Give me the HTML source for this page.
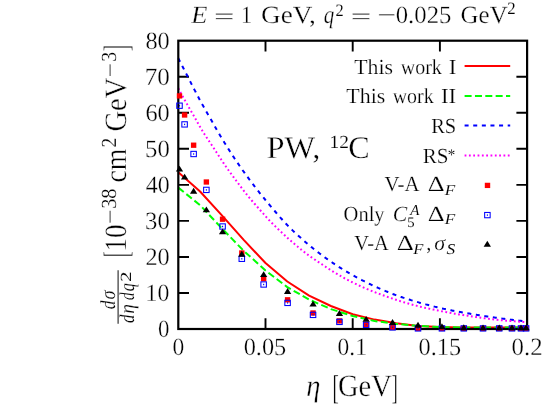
<!DOCTYPE html>
<html><head><meta charset="utf-8"><title>plot</title>
<style>
html,body{margin:0;padding:0;background:#fff;overflow:hidden}
svg{display:block}
text{font-family:"Liberation Serif",serif}
</style></head><body>
<svg width="545" height="406" viewBox="0 0 545 406">
<rect x="0" y="0" width="545" height="406" fill="#fff"/>
<path d="M178.3 292.96 h10.7 M527.1 292.96 h-10.7 M178.3 256.93 h10.7 M527.1 256.93 h-10.7 M178.3 220.89 h10.7 M527.1 220.89 h-10.7 M178.3 184.85 h10.7 M527.1 184.85 h-10.7 M178.3 148.81 h10.7 M527.1 148.81 h-10.7 M178.3 112.78 h10.7 M527.1 112.78 h-10.7 M178.3 76.74 h10.7 M527.1 76.74 h-10.7 M265.50 329.0 v-10.7 M265.50 40.7 v10.7 M352.70 329.0 v-10.7 M352.70 40.7 v10.7 M439.90 329.0 v-10.7 M439.90 40.7 v10.7" stroke="#000" stroke-width="1.9" fill="none"/>
<defs><clipPath id="pc"><rect x="178.3" y="40.7" width="348.80" height="288.30"/></clipPath></defs>
<g id="curves">
<path d="M178.30 172.30 L200.10 191.50 L221.90 215.40 L243.70 239.90 L265.50 263.00 L287.30 281.50 L309.10 295.60 L330.90 306.00 L352.70 314.20 L374.50 319.60 L396.30 323.20 L418.10 325.90 L439.90 327.10 L461.70 327.50 L483.50 327.60 L505.30 327.60 L527.10 327.60" stroke="#ff0000" stroke-width="2" fill="none" stroke-linejoin="round"/>
<path d="M178.30 187.60 L200.10 205.20 L221.90 228.40 L243.70 250.80 L265.50 270.50 L287.30 287.10 L309.10 299.60 L330.90 309.10 L352.70 316.00 L374.50 321.00 L396.30 323.90 L418.10 325.90 L439.90 327.10 L461.70 327.50 L483.50 327.60 L505.30 327.60 L527.10 327.60" stroke="#00ff00" stroke-width="2" fill="none" stroke-dasharray="7 3.35" stroke-linejoin="round"/>
<path d="M178.30 58.20 L179.17 59.91 L180.05 61.63 L180.92 63.34 L181.80 65.05 L182.67 66.76 L183.55 68.47 L184.42 70.18 L185.29 71.89 L186.17 73.59 L187.04 75.29 L187.92 76.99 L188.79 78.70 L189.66 80.41 L190.54 82.13 L191.41 83.84 L192.29 85.55 L193.16 87.25 L194.04 88.95 L194.91 90.64 L195.78 92.33 L196.66 94.00 L197.53 95.65 L198.41 97.29 L199.28 98.92 L200.15 100.53 L201.03 102.12 L201.90 103.70 L202.78 105.27 L203.65 106.83 L204.53 108.38 L205.40 109.92 L206.27 111.46 L207.15 112.99 L208.02 114.51 L208.90 116.03 L209.77 117.55 L210.64 119.07 L211.52 120.59 L212.39 122.10 L213.27 123.62 L214.14 125.14 L215.02 126.66 L215.89 128.17 L216.76 129.68 L217.64 131.19 L218.51 132.69 L219.39 134.18 L220.26 135.66 L221.14 137.14 L222.01 138.60 L222.88 140.06 L223.76 141.50 L224.63 142.93 L225.51 144.34 L226.38 145.75 L227.25 147.14 L228.13 148.53 L229.00 149.90 L229.88 151.27 L230.75 152.62 L231.63 153.97 L232.50 155.31 L233.37 156.64 L234.25 157.96 L235.12 159.27 L236.00 160.58 L236.87 161.88 L237.74 163.16 L238.62 164.44 L239.49 165.72 L240.37 166.98 L241.24 168.23 L242.12 169.47 L242.99 170.71 L243.86 171.93 L244.74 173.15 L245.61 174.36 L246.49 175.56 L247.36 176.75 L248.23 177.94 L249.11 179.12 L249.98 180.29 L250.86 181.45 L251.73 182.61 L252.61 183.77 L253.48 184.92 L254.35 186.06 L255.23 187.20 L256.10 188.33 L256.98 189.45 L257.85 190.56 L258.73 191.67 L259.60 192.77 L260.47 193.87 L261.35 194.95 L262.22 196.04 L263.10 197.11 L263.97 198.18 L264.84 199.25 L265.72 200.31 L266.59 201.36 L267.47 202.42 L268.34 203.46 L269.22 204.51 L270.09 205.55 L270.96 206.59 L271.84 207.62 L272.71 208.66 L273.59 209.69 L274.46 210.72 L275.33 211.75 L276.21 212.77 L277.08 213.78 L277.96 214.79 L278.83 215.80 L279.71 216.80 L280.58 217.79 L281.45 218.77 L282.33 219.74 L283.20 220.71 L284.08 221.66 L284.95 222.61 L285.82 223.54 L286.70 224.47 L287.57 225.38 L288.45 226.27 L289.32 227.16 L290.20 228.04 L291.07 228.91 L291.94 229.76 L292.82 230.61 L293.69 231.45 L294.57 232.28 L295.44 233.10 L296.32 233.91 L297.19 234.72 L298.06 235.52 L298.94 236.31 L299.81 237.09 L300.69 237.87 L301.56 238.65 L302.43 239.42 L303.31 240.18 L304.18 240.94 L305.06 241.70 L305.93 242.45 L306.81 243.20 L307.68 243.95 L308.55 244.68 L309.43 245.41 L310.30 246.14 L311.18 246.86 L312.05 247.57 L312.92 248.28 L313.80 248.98 L314.67 249.67 L315.55 250.36 L316.42 251.04 L317.30 251.72 L318.17 252.40 L319.04 253.06 L319.92 253.73 L320.79 254.39 L321.67 255.04 L322.54 255.69 L323.41 256.33 L324.29 256.97 L325.16 257.61 L326.04 258.24 L326.91 258.87 L327.79 259.49 L328.66 260.10 L329.53 260.71 L330.41 261.32 L331.28 261.92 L332.16 262.51 L333.03 263.10 L333.91 263.69 L334.78 264.27 L335.65 264.84 L336.53 265.41 L337.40 265.98 L338.28 266.54 L339.15 267.10 L340.02 267.65 L340.90 268.20 L341.77 268.74 L342.65 269.28 L343.52 269.82 L344.40 270.35 L345.27 270.87 L346.14 271.40 L347.02 271.92 L347.89 272.44 L348.77 272.95 L349.64 273.46 L350.51 273.96 L351.39 274.46 L352.26 274.95 L353.14 275.44 L354.01 275.92 L354.89 276.40 L355.76 276.88 L356.63 277.35 L357.51 277.82 L358.38 278.28 L359.26 278.74 L360.13 279.20 L361.00 279.65 L361.88 280.10 L362.75 280.54 L363.63 280.98 L364.50 281.42 L365.38 281.86 L366.25 282.29 L367.12 282.72 L368.00 283.15 L368.87 283.57 L369.75 283.99 L370.62 284.41 L371.49 284.83 L372.37 285.25 L373.24 285.66 L374.12 286.06 L374.99 286.47 L375.87 286.87 L376.74 287.27 L377.61 287.66 L378.49 288.05 L379.36 288.44 L380.24 288.83 L381.11 289.21 L381.99 289.59 L382.86 289.96 L383.73 290.33 L384.61 290.70 L385.48 291.07 L386.36 291.43 L387.23 291.79 L388.10 292.14 L388.98 292.50 L389.85 292.84 L390.73 293.19 L391.60 293.53 L392.48 293.87 L393.35 294.20 L394.22 294.53 L395.10 294.86 L395.97 295.18 L396.85 295.50 L397.72 295.81 L398.59 296.12 L399.47 296.43 L400.34 296.73 L401.22 297.03 L402.09 297.32 L402.97 297.61 L403.84 297.90 L404.71 298.18 L405.59 298.47 L406.46 298.74 L407.34 299.02 L408.21 299.29 L409.08 299.56 L409.96 299.83 L410.83 300.10 L411.71 300.36 L412.58 300.62 L413.46 300.88 L414.33 301.14 L415.20 301.40 L416.08 301.65 L416.95 301.91 L417.83 302.16 L418.70 302.41 L419.58 302.67 L420.45 302.92 L421.32 303.16 L422.20 303.41 L423.07 303.65 L423.95 303.89 L424.82 304.13 L425.69 304.37 L426.57 304.61 L427.44 304.84 L428.32 305.07 L429.19 305.30 L430.07 305.53 L430.94 305.76 L431.81 305.98 L432.69 306.20 L433.56 306.42 L434.44 306.64 L435.31 306.85 L436.18 307.07 L437.06 307.28 L437.93 307.49 L438.81 307.69 L439.68 307.90 L440.56 308.10 L441.43 308.30 L442.30 308.50 L443.18 308.70 L444.05 308.89 L444.93 309.08 L445.80 309.27 L446.67 309.45 L447.55 309.64 L448.42 309.82 L449.30 309.99 L450.17 310.17 L451.05 310.34 L451.92 310.51 L452.79 310.67 L453.67 310.84 L454.54 311.00 L455.42 311.16 L456.29 311.32 L457.17 311.48 L458.04 311.64 L458.91 311.79 L459.79 311.95 L460.66 312.10 L461.54 312.25 L462.41 312.40 L463.28 312.55 L464.16 312.70 L465.03 312.85 L465.91 313.00 L466.78 313.15 L467.66 313.30 L468.53 313.45 L469.40 313.60 L470.28 313.75 L471.15 313.90 L472.03 314.05 L472.90 314.19 L473.77 314.34 L474.65 314.49 L475.52 314.63 L476.40 314.77 L477.27 314.92 L478.15 315.06 L479.02 315.20 L479.89 315.34 L480.77 315.48 L481.64 315.62 L482.52 315.75 L483.39 315.89 L484.26 316.03 L485.14 316.16 L486.01 316.30 L486.89 316.43 L487.76 316.56 L488.64 316.69 L489.51 316.82 L490.38 316.95 L491.26 317.08 L492.13 317.20 L493.01 317.33 L493.88 317.46 L494.76 317.58 L495.63 317.70 L496.50 317.82 L497.38 317.94 L498.25 318.06 L499.13 318.18 L500.00 318.30 L500.87 318.41 L501.75 318.53 L502.62 318.64 L503.50 318.75 L504.37 318.86 L505.25 318.97 L506.12 319.08 L506.99 319.19 L507.87 319.30 L508.74 319.41 L509.62 319.51 L510.49 319.62 L511.36 319.73 L512.24 319.83 L513.11 319.93 L513.99 320.04 L514.86 320.14 L515.74 320.24 L516.61 320.35 L517.48 320.45 L518.36 320.55 L519.23 320.65 L520.11 320.75 L520.98 320.86 L521.85 320.96 L522.73 321.06 L523.60 321.16 L524.48 321.25 L525.35 321.35 L526.23 321.45 L527.10 321.55" stroke="#0000ff" stroke-width="2" fill="none" stroke-dasharray="4 4.6"/>
<path d="M178.30 88.30 L179.17 89.91 L180.05 91.52 L180.92 93.12 L181.80 94.72 L182.67 96.32 L183.55 97.90 L184.42 99.48 L185.29 101.05 L186.17 102.60 L187.04 104.13 L187.92 105.66 L188.79 107.18 L189.66 108.69 L190.54 110.20 L191.41 111.71 L192.29 113.22 L193.16 114.74 L194.04 116.26 L194.91 117.80 L195.78 119.35 L196.66 120.90 L197.53 122.45 L198.41 123.99 L199.28 125.52 L200.15 127.04 L201.03 128.54 L201.90 130.01 L202.78 131.45 L203.65 132.86 L204.53 134.24 L205.40 135.60 L206.27 136.94 L207.15 138.26 L208.02 139.58 L208.90 140.88 L209.77 142.18 L210.64 143.48 L211.52 144.77 L212.39 146.08 L213.27 147.39 L214.14 148.72 L215.02 150.05 L215.89 151.39 L216.76 152.74 L217.64 154.09 L218.51 155.43 L219.39 156.78 L220.26 158.12 L221.14 159.46 L222.01 160.79 L222.88 162.10 L223.76 163.41 L224.63 164.70 L225.51 165.98 L226.38 167.23 L227.25 168.48 L228.13 169.71 L229.00 170.93 L229.88 172.14 L230.75 173.34 L231.63 174.53 L232.50 175.72 L233.37 176.90 L234.25 178.08 L235.12 179.25 L236.00 180.43 L236.87 181.60 L237.74 182.78 L238.62 183.95 L239.49 185.11 L240.37 186.28 L241.24 187.43 L242.12 188.58 L242.99 189.72 L243.86 190.85 L244.74 191.98 L245.61 193.09 L246.49 194.18 L247.36 195.27 L248.23 196.34 L249.11 197.39 L249.98 198.44 L250.86 199.47 L251.73 200.50 L252.61 201.52 L253.48 202.53 L254.35 203.53 L255.23 204.53 L256.10 205.52 L256.98 206.51 L257.85 207.50 L258.73 208.49 L259.60 209.48 L260.47 210.47 L261.35 211.46 L262.22 212.46 L263.10 213.45 L263.97 214.44 L264.84 215.42 L265.72 216.40 L266.59 217.37 L267.47 218.33 L268.34 219.28 L269.22 220.22 L270.09 221.14 L270.96 222.04 L271.84 222.93 L272.71 223.82 L273.59 224.69 L274.46 225.55 L275.33 226.40 L276.21 227.25 L277.08 228.09 L277.96 228.93 L278.83 229.76 L279.71 230.59 L280.58 231.41 L281.45 232.24 L282.33 233.06 L283.20 233.88 L284.08 234.70 L284.95 235.51 L285.82 236.31 L286.70 237.11 L287.57 237.91 L288.45 238.70 L289.32 239.49 L290.20 240.26 L291.07 241.04 L291.94 241.81 L292.82 242.57 L293.69 243.32 L294.57 244.07 L295.44 244.81 L296.32 245.55 L297.19 246.29 L298.06 247.02 L298.94 247.74 L299.81 248.45 L300.69 249.17 L301.56 249.87 L302.43 250.57 L303.31 251.26 L304.18 251.94 L305.06 252.62 L305.93 253.29 L306.81 253.95 L307.68 254.61 L308.55 255.25 L309.43 255.89 L310.30 256.51 L311.18 257.13 L312.05 257.74 L312.92 258.34 L313.80 258.94 L314.67 259.53 L315.55 260.12 L316.42 260.71 L317.30 261.29 L318.17 261.87 L319.04 262.44 L319.92 263.02 L320.79 263.60 L321.67 264.18 L322.54 264.76 L323.41 265.33 L324.29 265.91 L325.16 266.49 L326.04 267.06 L326.91 267.63 L327.79 268.20 L328.66 268.77 L329.53 269.33 L330.41 269.89 L331.28 270.45 L332.16 271.00 L333.03 271.55 L333.91 272.09 L334.78 272.63 L335.65 273.17 L336.53 273.69 L337.40 274.22 L338.28 274.73 L339.15 275.24 L340.02 275.74 L340.90 276.24 L341.77 276.73 L342.65 277.22 L343.52 277.70 L344.40 278.17 L345.27 278.65 L346.14 279.11 L347.02 279.57 L347.89 280.03 L348.77 280.48 L349.64 280.93 L350.51 281.38 L351.39 281.82 L352.26 282.25 L353.14 282.69 L354.01 283.12 L354.89 283.54 L355.76 283.96 L356.63 284.38 L357.51 284.79 L358.38 285.20 L359.26 285.60 L360.13 286.00 L361.00 286.39 L361.88 286.79 L362.75 287.17 L363.63 287.56 L364.50 287.93 L365.38 288.31 L366.25 288.68 L367.12 289.05 L368.00 289.42 L368.87 289.79 L369.75 290.15 L370.62 290.51 L371.49 290.87 L372.37 291.22 L373.24 291.57 L374.12 291.91 L374.99 292.25 L375.87 292.59 L376.74 292.92 L377.61 293.26 L378.49 293.59 L379.36 293.91 L380.24 294.24 L381.11 294.56 L381.99 294.88 L382.86 295.19 L383.73 295.51 L384.61 295.82 L385.48 296.14 L386.36 296.45 L387.23 296.76 L388.10 297.07 L388.98 297.38 L389.85 297.68 L390.73 297.99 L391.60 298.29 L392.48 298.59 L393.35 298.89 L394.22 299.18 L395.10 299.48 L395.97 299.77 L396.85 300.05 L397.72 300.34 L398.59 300.62 L399.47 300.90 L400.34 301.18 L401.22 301.45 L402.09 301.72 L402.97 301.99 L403.84 302.25 L404.71 302.51 L405.59 302.77 L406.46 303.03 L407.34 303.28 L408.21 303.53 L409.08 303.77 L409.96 304.02 L410.83 304.26 L411.71 304.49 L412.58 304.73 L413.46 304.96 L414.33 305.19 L415.20 305.42 L416.08 305.64 L416.95 305.87 L417.83 306.09 L418.70 306.30 L419.58 306.52 L420.45 306.73 L421.32 306.94 L422.20 307.14 L423.07 307.34 L423.95 307.54 L424.82 307.74 L425.69 307.93 L426.57 308.12 L427.44 308.30 L428.32 308.49 L429.19 308.67 L430.07 308.86 L430.94 309.04 L431.81 309.22 L432.69 309.40 L433.56 309.58 L434.44 309.76 L435.31 309.94 L436.18 310.12 L437.06 310.30 L437.93 310.48 L438.81 310.66 L439.68 310.83 L440.56 311.01 L441.43 311.19 L442.30 311.36 L443.18 311.54 L444.05 311.71 L444.93 311.89 L445.80 312.06 L446.67 312.23 L447.55 312.39 L448.42 312.56 L449.30 312.72 L450.17 312.89 L451.05 313.05 L451.92 313.21 L452.79 313.36 L453.67 313.52 L454.54 313.67 L455.42 313.82 L456.29 313.96 L457.17 314.11 L458.04 314.25 L458.91 314.39 L459.79 314.53 L460.66 314.67 L461.54 314.81 L462.41 314.94 L463.28 315.08 L464.16 315.21 L465.03 315.34 L465.91 315.48 L466.78 315.61 L467.66 315.74 L468.53 315.88 L469.40 316.01 L470.28 316.14 L471.15 316.28 L472.03 316.41 L472.90 316.55 L473.77 316.68 L474.65 316.82 L475.52 316.95 L476.40 317.08 L477.27 317.22 L478.15 317.35 L479.02 317.48 L479.89 317.61 L480.77 317.74 L481.64 317.87 L482.52 317.99 L483.39 318.11 L484.26 318.24 L485.14 318.35 L486.01 318.47 L486.89 318.59 L487.76 318.70 L488.64 318.81 L489.51 318.92 L490.38 319.02 L491.26 319.13 L492.13 319.23 L493.01 319.33 L493.88 319.43 L494.76 319.53 L495.63 319.63 L496.50 319.72 L497.38 319.81 L498.25 319.91 L499.13 320.00 L500.00 320.08 L500.87 320.17 L501.75 320.26 L502.62 320.34 L503.50 320.42 L504.37 320.51 L505.25 320.59 L506.12 320.67 L506.99 320.74 L507.87 320.82 L508.74 320.89 L509.62 320.97 L510.49 321.04 L511.36 321.11 L512.24 321.18 L513.11 321.24 L513.99 321.31 L514.86 321.37 L515.74 321.43 L516.61 321.50 L517.48 321.55 L518.36 321.61 L519.23 321.67 L520.11 321.72 L520.98 321.78 L521.85 321.83 L522.73 321.88 L523.60 321.92 L524.48 321.97 L525.35 322.01 L526.23 322.06 L527.10 322.10" stroke="#ff00ff" stroke-width="2" fill="none" stroke-dasharray="1.8 2.52"/>
</g>
<rect x="178.3" y="40.7" width="348.80" height="288.30" fill="none" stroke="#000" stroke-width="2.2"/>
<g id="markers">
<rect x="176.80" y="93.25" width="5.4" height="5.3" fill="#ff0000"/>
<rect x="181.89" y="112.35" width="5.4" height="5.3" fill="#ff0000"/>
<rect x="190.92" y="142.55" width="5.4" height="5.3" fill="#ff0000"/>
<rect x="203.67" y="179.35" width="5.4" height="5.3" fill="#ff0000"/>
<rect x="219.87" y="216.55" width="5.4" height="5.3" fill="#ff0000"/>
<rect x="239.11" y="250.35" width="5.4" height="5.3" fill="#ff0000"/>
<rect x="260.95" y="276.05" width="5.4" height="5.3" fill="#ff0000"/>
<rect x="284.89" y="297.15" width="5.4" height="5.3" fill="#ff0000"/>
<rect x="310.35" y="310.35" width="5.4" height="5.3" fill="#ff0000"/>
<rect x="336.75" y="318.25" width="5.4" height="5.3" fill="#ff0000"/>
<rect x="363.45" y="321.95" width="5.4" height="5.3" fill="#ff0000"/>
<rect x="389.85" y="324.75" width="5.4" height="5.3" fill="#ff0000"/>
<rect x="415.31" y="325.75" width="5.4" height="5.3" fill="#ff0000"/>
<rect x="439.25" y="325.75" width="5.4" height="5.3" fill="#ff0000"/>
<rect x="461.09" y="325.75" width="5.4" height="5.3" fill="#ff0000"/>
<rect x="480.33" y="325.75" width="5.4" height="5.3" fill="#ff0000"/>
<rect x="496.53" y="325.75" width="5.4" height="5.3" fill="#ff0000"/>
<rect x="509.28" y="325.75" width="5.4" height="5.3" fill="#ff0000"/>
<rect x="518.31" y="325.75" width="5.4" height="5.3" fill="#ff0000"/>
<rect x="523.40" y="325.75" width="5.4" height="5.3" fill="#ff0000"/>
<rect x="176.75" y="103.05" width="5.5" height="5.3" fill="none" stroke="#0000ff" stroke-width="1.05"/><rect x="178.95" y="105.00" width="1.1" height="1.4" fill="#0000ff"/>
<rect x="181.84" y="121.75" width="5.5" height="5.3" fill="none" stroke="#0000ff" stroke-width="1.05"/><rect x="184.04" y="123.70" width="1.1" height="1.4" fill="#0000ff"/>
<rect x="190.87" y="151.35" width="5.5" height="5.3" fill="none" stroke="#0000ff" stroke-width="1.05"/><rect x="193.07" y="153.30" width="1.1" height="1.4" fill="#0000ff"/>
<rect x="203.62" y="187.25" width="5.5" height="5.3" fill="none" stroke="#0000ff" stroke-width="1.05"/><rect x="205.82" y="189.20" width="1.1" height="1.4" fill="#0000ff"/>
<rect x="219.82" y="223.85" width="5.5" height="5.3" fill="none" stroke="#0000ff" stroke-width="1.05"/><rect x="222.02" y="225.80" width="1.1" height="1.4" fill="#0000ff"/>
<rect x="239.06" y="256.15" width="5.5" height="5.3" fill="none" stroke="#0000ff" stroke-width="1.05"/><rect x="241.26" y="258.10" width="1.1" height="1.4" fill="#0000ff"/>
<rect x="260.90" y="281.85" width="5.5" height="5.3" fill="none" stroke="#0000ff" stroke-width="1.05"/><rect x="263.10" y="283.80" width="1.1" height="1.4" fill="#0000ff"/>
<rect x="284.84" y="300.25" width="5.5" height="5.3" fill="none" stroke="#0000ff" stroke-width="1.05"/><rect x="287.04" y="302.20" width="1.1" height="1.4" fill="#0000ff"/>
<rect x="310.30" y="312.25" width="5.5" height="5.3" fill="none" stroke="#0000ff" stroke-width="1.05"/><rect x="312.50" y="314.20" width="1.1" height="1.4" fill="#0000ff"/>
<rect x="336.70" y="319.25" width="5.5" height="5.3" fill="none" stroke="#0000ff" stroke-width="1.05"/><rect x="338.90" y="321.20" width="1.1" height="1.4" fill="#0000ff"/>
<rect x="363.40" y="322.15" width="5.5" height="5.3" fill="none" stroke="#0000ff" stroke-width="1.05"/><rect x="365.60" y="324.10" width="1.1" height="1.4" fill="#0000ff"/>
<rect x="389.80" y="324.75" width="5.5" height="5.3" fill="none" stroke="#0000ff" stroke-width="1.05"/><rect x="392.00" y="326.70" width="1.1" height="1.4" fill="#0000ff"/>
<rect x="415.26" y="325.75" width="5.5" height="5.3" fill="none" stroke="#0000ff" stroke-width="1.05"/><rect x="417.46" y="327.70" width="1.1" height="1.4" fill="#0000ff"/>
<rect x="439.20" y="325.75" width="5.5" height="5.3" fill="none" stroke="#0000ff" stroke-width="1.05"/><rect x="441.40" y="327.70" width="1.1" height="1.4" fill="#0000ff"/>
<rect x="461.04" y="325.75" width="5.5" height="5.3" fill="none" stroke="#0000ff" stroke-width="1.05"/><rect x="463.24" y="327.70" width="1.1" height="1.4" fill="#0000ff"/>
<rect x="480.28" y="325.75" width="5.5" height="5.3" fill="none" stroke="#0000ff" stroke-width="1.05"/><rect x="482.48" y="327.70" width="1.1" height="1.4" fill="#0000ff"/>
<rect x="496.48" y="325.75" width="5.5" height="5.3" fill="none" stroke="#0000ff" stroke-width="1.05"/><rect x="498.68" y="327.70" width="1.1" height="1.4" fill="#0000ff"/>
<rect x="509.23" y="325.75" width="5.5" height="5.3" fill="none" stroke="#0000ff" stroke-width="1.05"/><rect x="511.43" y="327.70" width="1.1" height="1.4" fill="#0000ff"/>
<rect x="518.26" y="325.75" width="5.5" height="5.3" fill="none" stroke="#0000ff" stroke-width="1.05"/><rect x="520.46" y="327.70" width="1.1" height="1.4" fill="#0000ff"/>
<rect x="523.35" y="325.75" width="5.5" height="5.3" fill="none" stroke="#0000ff" stroke-width="1.05"/><rect x="525.55" y="327.70" width="1.1" height="1.4" fill="#0000ff"/>
<path d="M179.50 165.70 L183.15 171.55 L175.85 171.55Z" fill="#000"/>
<path d="M184.59 173.70 L188.24 179.55 L180.94 179.55Z" fill="#000"/>
<path d="M193.62 187.80 L197.27 193.65 L189.97 193.65Z" fill="#000"/>
<path d="M206.37 206.40 L210.02 212.25 L202.72 212.25Z" fill="#000"/>
<path d="M222.57 228.50 L226.22 234.35 L218.92 234.35Z" fill="#000"/>
<path d="M241.81 250.80 L245.46 256.65 L238.16 256.65Z" fill="#000"/>
<path d="M263.65 271.20 L267.30 277.05 L260.00 277.05Z" fill="#000"/>
<path d="M287.59 288.10 L291.24 293.95 L283.94 293.95Z" fill="#000"/>
<path d="M313.05 300.70 L316.70 306.55 L309.40 306.55Z" fill="#000"/>
<path d="M339.45 310.10 L343.10 315.95 L335.80 315.95Z" fill="#000"/>
<path d="M366.15 316.00 L369.80 321.85 L362.50 321.85Z" fill="#000"/>
<path d="M392.55 319.10 L396.20 324.95 L388.90 324.95Z" fill="#000"/>
<path d="M418.01 321.80 L421.66 327.65 L414.36 327.65Z" fill="#000"/>
<path d="M441.95 323.30 L445.60 329.15 L438.30 329.15Z" fill="#000"/>
<path d="M463.79 324.30 L467.44 330.15 L460.14 330.15Z" fill="#000"/>
<path d="M483.03 324.50 L486.68 330.35 L479.38 330.35Z" fill="#000"/>
<path d="M499.23 324.50 L502.88 330.35 L495.58 330.35Z" fill="#000"/>
<path d="M511.98 324.50 L515.63 330.35 L508.33 330.35Z" fill="#000"/>
<path d="M521.01 324.50 L524.66 330.35 L517.36 330.35Z" fill="#000"/>
<path d="M526.10 324.50 L529.75 330.35 L522.45 330.35Z" fill="#000"/>
</g>
<g id="legend">
<path d="M464.6 66.1 H510.2" stroke="#ff0000" stroke-width="2"/>
<path d="M464.6 96.0 H510.2" stroke="#00ff00" stroke-width="2" stroke-dasharray="7 3.35"/>
<path d="M464.6 125.6 H510.2" stroke="#0000ff" stroke-width="2" stroke-dasharray="4 4.62"/>
<path d="M464.6 155.6 H510.2" stroke="#ff00ff" stroke-width="2" stroke-dasharray="1.8 2.52"/>
<rect x="484.80" y="182.75" width="5.4" height="5.3" fill="#ff0000"/>
<rect x="484.65" y="212.45" width="5.5" height="5.3" fill="none" stroke="#0000ff" stroke-width="1.05"/><rect x="486.85" y="214.40" width="1.1" height="1.4" fill="#0000ff"/>
<path d="M487.30 240.80 L490.95 246.65 L483.65 246.65Z" fill="#000"/>
</g>
<path d="M118.1 323.7 V270.3" stroke="#222" stroke-width="1.1"/>
<g font-family="'Liberation Serif', serif" fill="#000" stroke="#fff" style="will-change:transform;text-rendering:geometricPrecision">
<text transform="translate(191.21 22.60) scale(1.0645 1.0000)" font-size="24.8" stroke-width="0.29" vector-effect="non-scaling-stroke" font-style="italic" >E</text>
<text transform="translate(214.00 23.76) scale(1.4624 0.9260)" font-size="24.8" stroke-width="0.29" vector-effect="non-scaling-stroke" >=</text>
<text transform="translate(241.09 22.60) scale(0.8817 1.0000)" font-size="24.8" stroke-width="0.29" vector-effect="non-scaling-stroke" >1</text>
<text transform="translate(261.05 22.60) scale(1.0988 1.0000)" font-size="24.8" stroke-width="0.29" vector-effect="non-scaling-stroke" >GeV,</text>
<text transform="translate(323.74 22.60) scale(0.8454 1.0000)" font-size="24.8" stroke-width="0.29" vector-effect="non-scaling-stroke" font-style="italic" >q</text>
<text transform="translate(335.39 16.20) scale(0.9346 1.0000)" font-size="17.5" stroke-width="0.11" vector-effect="non-scaling-stroke" >2</text>
<text transform="translate(350.79 23.76) scale(1.4710 0.9260)" font-size="24.8" stroke-width="0.29" vector-effect="non-scaling-stroke" >=</text>
<text transform="translate(377.23 22.60) scale(1.3505 1.0000)" font-size="24.8" stroke-width="0.29" vector-effect="non-scaling-stroke" >−</text>
<text transform="translate(395.73 22.60) scale(0.9972 1.0000)" font-size="24.8" stroke-width="0.29" vector-effect="non-scaling-stroke" >0.025</text>
<text transform="translate(460.62 22.60) scale(1.0051 1.0000)" font-size="24.8" stroke-width="0.29" vector-effect="non-scaling-stroke" >GeV</text>
<text transform="translate(507.37 13.70) scale(0.9617 1.0000)" font-size="17.5" stroke-width="0.11" vector-effect="non-scaling-stroke" >2</text>
<text transform="translate(157.89 337.20) scale(0.9217 1.0000)" font-size="24.8" stroke-width="0.29" vector-effect="non-scaling-stroke" >0</text>
<text transform="translate(145.54 301.16) scale(0.9598 1.0000)" font-size="24.8" stroke-width="0.29" vector-effect="non-scaling-stroke" >10</text>
<text transform="translate(145.44 265.12) scale(0.9806 1.0000)" font-size="24.8" stroke-width="0.29" vector-effect="non-scaling-stroke" >20</text>
<text transform="translate(145.04 229.09) scale(0.9973 1.0000)" font-size="24.8" stroke-width="0.29" vector-effect="non-scaling-stroke" >30</text>
<text transform="translate(145.83 193.05) scale(0.9646 1.0000)" font-size="24.8" stroke-width="0.29" vector-effect="non-scaling-stroke" >40</text>
<text transform="translate(145.04 157.01) scale(0.9973 1.0000)" font-size="24.8" stroke-width="0.29" vector-effect="non-scaling-stroke" >50</text>
<text transform="translate(145.44 120.98) scale(0.9806 1.0000)" font-size="24.8" stroke-width="0.29" vector-effect="non-scaling-stroke" >60</text>
<text transform="translate(144.63 84.94) scale(1.0145 1.0000)" font-size="24.8" stroke-width="0.29" vector-effect="non-scaling-stroke" >70</text>
<text transform="translate(145.44 48.90) scale(0.9806 1.0000)" font-size="24.8" stroke-width="0.29" vector-effect="non-scaling-stroke" >80</text>
<text transform="translate(172.56 355.20) scale(0.9493 1.0000)" font-size="24.8" stroke-width="0.29" vector-effect="non-scaling-stroke" >0</text>
<text transform="translate(243.64 355.20) scale(0.9821 1.0000)" font-size="24.8" stroke-width="0.29" vector-effect="non-scaling-stroke" >0.05</text>
<text transform="translate(337.57 355.20) scale(0.9462 1.0000)" font-size="24.8" stroke-width="0.29" vector-effect="non-scaling-stroke" >0.1</text>
<text transform="translate(418.54 355.20) scale(0.9797 1.0000)" font-size="24.8" stroke-width="0.29" vector-effect="non-scaling-stroke" >0.15</text>
<text transform="translate(511.52 355.20) scale(1.0013 1.0000)" font-size="24.8" stroke-width="0.29" vector-effect="non-scaling-stroke" >0.2</text>
<text transform="translate(306.31 395.90) scale(0.9217 1.0000)" font-size="31" stroke-width="0.39" vector-effect="non-scaling-stroke" font-style="italic" >η</text>
<text transform="translate(332.43 398.55) scale(0.6056 1.1125)" font-size="31" stroke-width="0.39" vector-effect="non-scaling-stroke" >[</text>
<text transform="translate(338.01 395.90) scale(0.9207 1.0000)" font-size="31" stroke-width="0.39" vector-effect="non-scaling-stroke" >GeV</text>
<text transform="translate(391.84 398.55) scale(0.5781 1.1125)" font-size="31" stroke-width="0.39" vector-effect="non-scaling-stroke" >]</text>
<text transform="translate(266.49 158.20) scale(1.0307 1.0000)" font-size="31.5" stroke-width="0.39" vector-effect="non-scaling-stroke" >PW,</text>
<text transform="translate(329.58 147.50) scale(1.0502 1.0000)" font-size="18.5" stroke-width="0.14" vector-effect="non-scaling-stroke" >12</text>
<text transform="translate(348.19 158.20) scale(1.0212 1.0000)" font-size="31.5" stroke-width="0.39" vector-effect="non-scaling-stroke" >C</text>
<text transform="translate(354.26 73.60) scale(1.0148 1.0000)" font-size="21.5" stroke-width="0.21" vector-effect="non-scaling-stroke" >This</text>
<text transform="translate(400.70 73.60) scale(0.9302 1.0000)" font-size="21.5" stroke-width="0.21" vector-effect="non-scaling-stroke" >work</text>
<text transform="translate(448.68 73.60) scale(1.0749 1.0000)" font-size="21.5" stroke-width="0.21" vector-effect="non-scaling-stroke" >I</text>
<text transform="translate(346.26 103.10) scale(1.0202 1.0000)" font-size="21.5" stroke-width="0.21" vector-effect="non-scaling-stroke" >This</text>
<text transform="translate(392.70 103.10) scale(0.9256 1.0000)" font-size="21.5" stroke-width="0.21" vector-effect="non-scaling-stroke" >work</text>
<text transform="translate(440.88 103.10) scale(1.0677 1.0000)" font-size="21.5" stroke-width="0.21" vector-effect="non-scaling-stroke" >II</text>
<text transform="translate(431.18 133.10) scale(0.9534 1.0000)" font-size="21.5" stroke-width="0.21" vector-effect="non-scaling-stroke" >RS</text>
<text transform="translate(422.67 162.90) scale(0.9776 1.0000)" font-size="21.5" stroke-width="0.21" vector-effect="non-scaling-stroke" >RS</text>
<text transform="translate(447.80 159.70) scale(0.9385 1.0000)" font-size="16" stroke-width="0.07" vector-effect="non-scaling-stroke" >*</text>
<text transform="translate(384.50 191.40) scale(0.9678 1.0000)" font-size="21.5" stroke-width="0.21" vector-effect="non-scaling-stroke" >V-A</text>
<text transform="translate(427.68 191.40) scale(1.2229 1.0000)" font-size="21.5" stroke-width="0.21" vector-effect="non-scaling-stroke" >Δ</text>
<text transform="translate(444.67 194.70) scale(1.1447 1.0000)" font-size="15" stroke-width="0.05" vector-effect="non-scaling-stroke" font-style="italic" >F</text>
<text transform="translate(343.56 221.10) scale(0.9544 1.0000)" font-size="21.5" stroke-width="0.21" vector-effect="non-scaling-stroke" >Only</text>
<text transform="translate(392.68 221.10) scale(1.0092 1.0000)" font-size="21.5" stroke-width="0.21" vector-effect="non-scaling-stroke" font-style="italic" >C</text>
<text transform="translate(407.31 226.80) scale(1.0135 1.0000)" font-size="14.5" stroke-width="0.04" vector-effect="non-scaling-stroke" >5</text>
<text transform="translate(410.14 214.70) scale(0.9988 1.0000)" font-size="15" stroke-width="0.05" vector-effect="non-scaling-stroke" font-style="italic" >A</text>
<text transform="translate(427.68 221.10) scale(1.2229 1.0000)" font-size="21.5" stroke-width="0.21" vector-effect="non-scaling-stroke" >Δ</text>
<text transform="translate(444.67 224.40) scale(1.1447 1.0000)" font-size="15" stroke-width="0.05" vector-effect="non-scaling-stroke" font-style="italic" >F</text>
<text transform="translate(354.30 250.30) scale(0.9512 1.0000)" font-size="21.5" stroke-width="0.21" vector-effect="non-scaling-stroke" >V-A</text>
<text transform="translate(396.67 250.30) scale(1.2390 1.0000)" font-size="21.5" stroke-width="0.21" vector-effect="non-scaling-stroke" >Δ</text>
<text transform="translate(413.26 253.60) scale(1.1031 1.0000)" font-size="15" stroke-width="0.05" vector-effect="non-scaling-stroke" font-style="italic" >F</text>
<text transform="translate(426.16 250.30) scale(0.9526 1.0000)" font-size="21.5" stroke-width="0.21" vector-effect="non-scaling-stroke" >,</text>
<text transform="translate(434.15 250.30) scale(1.0283 1.0000)" font-size="21.5" stroke-width="0.21" vector-effect="non-scaling-stroke" font-style="italic" >σ</text>
<text transform="translate(446.60 253.60) scale(1.1561 1.0000)" font-size="15" stroke-width="0.05" vector-effect="non-scaling-stroke" font-style="italic" >S</text>
<text transform="translate(114.80 309.17) rotate(-90) scale(0.8093 1.0000)" font-size="21.5" stroke-width="0.21" vector-effect="non-scaling-stroke" font-style="italic" >d</text>
<text transform="translate(114.80 299.49) rotate(-90) scale(0.8569 1.0000)" font-size="21.5" stroke-width="0.21" vector-effect="non-scaling-stroke" font-style="italic" >σ</text>
<text transform="translate(133.90 322.96) rotate(-90) scale(0.8000 1.0000)" font-size="21" stroke-width="0.20" vector-effect="non-scaling-stroke" font-style="italic" >d</text>
<text transform="translate(133.90 313.70) rotate(-90) scale(0.9143 1.0000)" font-size="21" stroke-width="0.20" vector-effect="non-scaling-stroke" font-style="italic" >η</text>
<text transform="translate(133.90 299.93) rotate(-90) scale(0.7143 1.0000)" font-size="21" stroke-width="0.20" vector-effect="non-scaling-stroke" font-style="italic" >d</text>
<text transform="translate(133.90 291.30) rotate(-90) scale(0.7672 1.0000)" font-size="21" stroke-width="0.20" vector-effect="non-scaling-stroke" font-style="italic" >q</text>
<text transform="translate(130.80 281.96) rotate(-90) scale(1.3611 1.0000)" font-size="15.5" stroke-width="0.06" vector-effect="non-scaling-stroke" >2</text>
<text transform="translate(127.90 257.32) rotate(-90) scale(0.5781 1.1470)" font-size="31" stroke-width="0.39" vector-effect="non-scaling-stroke" >[</text>
<text transform="translate(126.00 251.40) rotate(-90) scale(0.8656 1.0000)" font-size="31" stroke-width="0.39" vector-effect="non-scaling-stroke" >10</text>
<text transform="translate(116.62 224.11) rotate(-90) scale(1.2292 0.9905)" font-size="21" stroke-width="0.20" vector-effect="non-scaling-stroke" >−</text>
<text transform="translate(115.60 208.86) rotate(-90) scale(0.9485 1.0000)" font-size="21.5" stroke-width="0.21" vector-effect="non-scaling-stroke" >38</text>
<text transform="translate(125.90 182.47) rotate(-90) scale(0.8953 1.0000)" font-size="31" stroke-width="0.39" vector-effect="non-scaling-stroke" >cm</text>
<text transform="translate(115.50 147.51) rotate(-90) scale(0.9040 1.0000)" font-size="21.5" stroke-width="0.21" vector-effect="non-scaling-stroke" >2</text>
<text transform="translate(126.10 131.49) rotate(-90) scale(0.9172 1.0000)" font-size="31" stroke-width="0.39" vector-effect="non-scaling-stroke" >GeV</text>
<text transform="translate(116.62 77.18) rotate(-90) scale(1.1987 0.9905)" font-size="21" stroke-width="0.20" vector-effect="non-scaling-stroke" >−</text>
<text transform="translate(115.60 61.82) rotate(-90) scale(0.9151 1.0000)" font-size="21.5" stroke-width="0.21" vector-effect="non-scaling-stroke" >3</text>
<text transform="translate(127.90 51.31) rotate(-90) scale(0.6331 1.1470)" font-size="31" stroke-width="0.39" vector-effect="non-scaling-stroke" >]</text>
</g>
</svg>
</body></html>
